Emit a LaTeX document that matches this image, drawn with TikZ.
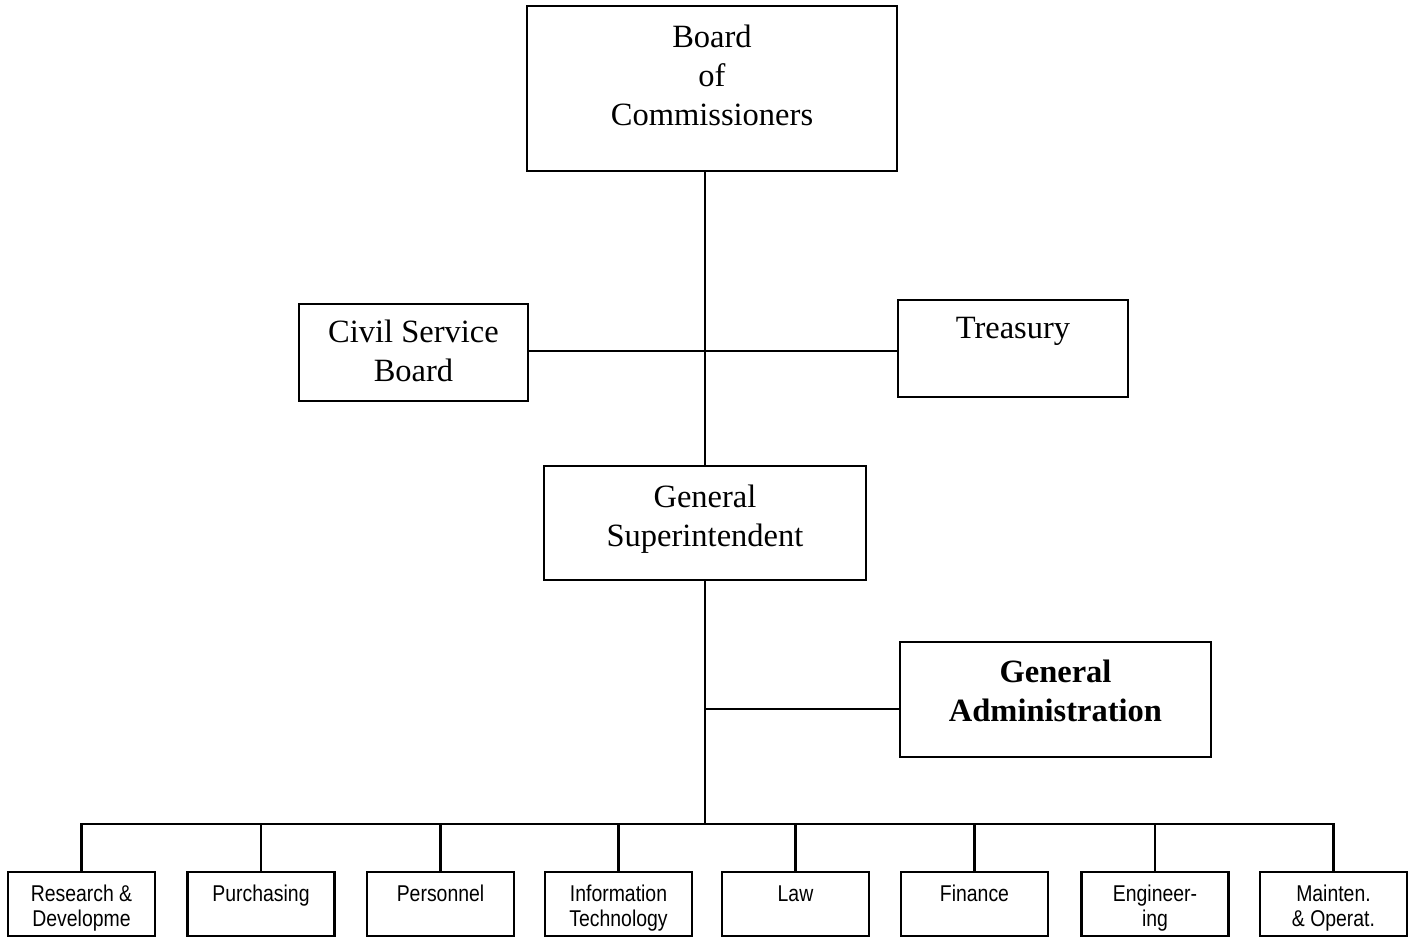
\documentclass[tikz,border=0pt]{standalone}
\usepackage{fontspec}
\setmainfont{Liberation Serif}
\newfontfamily\narrowsans[FakeStretch=0.85]{Liberation Sans}

\begin{document}
\begin{tikzpicture}[
    % one unit = one pixel of the layout, y downwards
    x=0.02cm, y=-0.02cm,
    % Box styles
    box/.style={
        draw, line width=1.3pt, inner sep=0pt,
      },
    unit/.style={
        box, minimum width=2.94cm, minimum height=1.28cm,
      },
    % Text styles
    big text/.style={
        align=center, inner sep=0pt, anchor=north,
        font=\fontsize{18.5}{22.2}\selectfont,
      },
    small text/.style={
        align=center, inner sep=0pt, anchor=north, yshift=-8pt,
        font=\narrowsans\fontsize{13}{14.2}\selectfont,
      },
    % Connector style
    link/.style={line width=1.3pt},
  ]
  \useasboundingbox (0,0) rectangle (1414,938);

  % --- Upper offices ---
  \node[box, minimum width=7.4cm, minimum height=3.3cm,
    label={[big text, yshift=-11pt]north:Board\\of\\Commissioners}]
    (board) at (712,88.5) {};
  \node[box, minimum width=4.58cm, minimum height=1.94cm,
    label={[big text, yshift=-9.5pt]north:Civil Service\\Board}]
    (civil) at (413.5,352.5) {};
  \node[box, minimum width=4.6cm, minimum height=1.94cm,
    label={[big text, yshift=-10pt]north:Treasury}]
    (treasury) at (1013,348.5) {};
  \node[box, minimum width=6.44cm, minimum height=2.28cm,
    label={[big text, yshift=-11pt]north:General\\Superintendent}]
    (super) at (705,523) {};
  \node[box, minimum width=6.22cm, minimum height=2.3cm,
    label={[big text, yshift=-10.5pt, font=\fontsize{18.5}{22.2}\selectfont\bfseries]north:General\\Administration}]
    (admin) at (1055.5,699.5) {};

  % --- Departments ---
  \foreach \name/\xpos/\txt in {
      rd/81.5/{Research \&\\Developme},
      purch/261/{Purchasing},
      pers/440.5/{Personnel},
      it/618.5/{Information\\Technology},
      law/795.5/{Law},
      fin/974.5/{Finance},
      eng/1155/{Engineer-\\ing},
      maint/1333.5/{Mainten.\\\& Operat.}} {
      \node[unit, label={[small text]north:\txt}] (\name) at (\xpos,904) {};
    }

  % --- Connectors ---
  \coordinate (bus) at (705,824);
  \draw[link] (super.north) -- (super.north |- board.south);
  \draw[link] ([yshift=1pt]civil.east) -- ([yshift=1pt]civil.east -| treasury.west);
  \draw[link] (super.south) -- (bus);
  \draw[link] ([yshift=-5.5pt]admin.west) -- ([yshift=-5.5pt]admin.west -| bus);
  \draw[link] (rd.north) |- (maint.north |- bus) -- (maint.north);
  \foreach \name in {purch,pers,it,law,fin,eng} {
      \draw[link] (\name.north) -- (\name.north |- bus);
    }

\end{tikzpicture}
\end{document}
